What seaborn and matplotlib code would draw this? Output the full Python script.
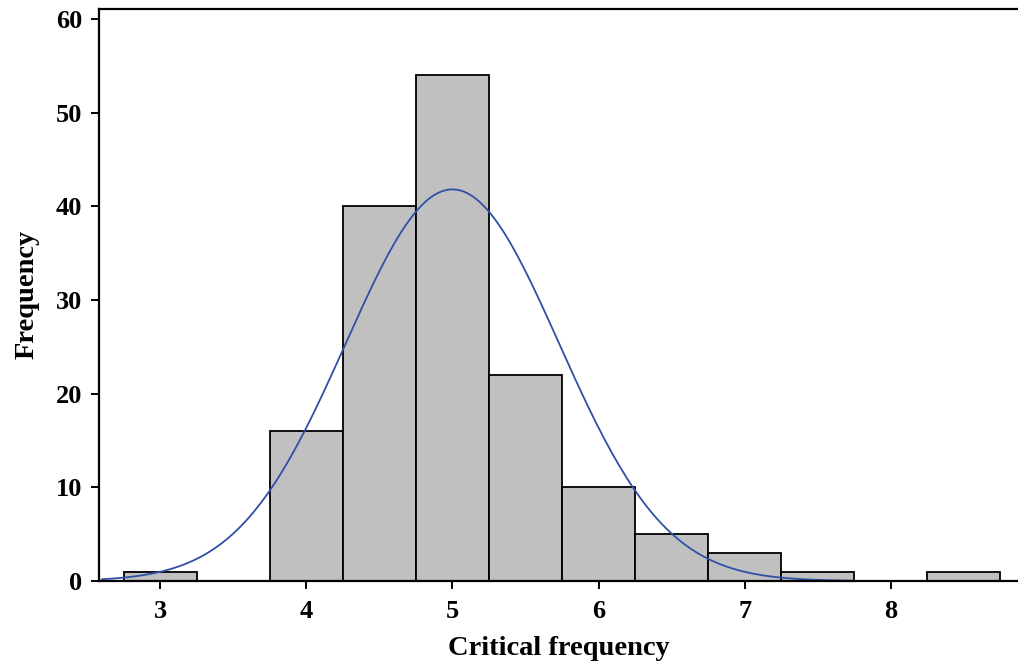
import numpy as np
import pandas as pd
import matplotlib
matplotlib.use("Agg")
import matplotlib.pyplot as plt
import seaborn as sns

# ---- data ----
bin_centers = [3.0, 3.5, 4.0, 4.5, 5.0, 5.5, 6.0, 6.5, 7.0, 7.5, 8.0, 8.5]
counts = [1, 0, 16, 40, 54, 22, 10, 5, 3, 1, 0, 1]
fit_mean = 5.0
fit_sd = 0.73
curve_range = (2.6, 7.75)
x_ticks = [3, 4, 5, 6, 7, 8]
y_ticks = [0, 10, 20, 30, 40, 50, 60]
x_label = "Critical frequency"
y_label = "Frequency"

sns.set_theme(style="white")
plt.rcParams["font.family"] = ["Liberation Serif", "DejaVu Serif"]
plt.rcParams["font.weight"] = "bold"
plt.rcParams["text.color"] = "black"
plt.rcParams["axes.labelcolor"] = "black"
plt.rcParams["xtick.color"] = "black"
plt.rcParams["ytick.color"] = "black"

fig = plt.figure(figsize=(10.18, 6.71), dpi=100)
ax = fig.add_axes([0.0973, 0.1341, 0.9027, 0.853])

df = pd.DataFrame({"x": bin_centers, "n": counts})
binwidth = 0.5
sns.histplot(data=df, x="x", weights="n", binwidth=binwidth,
             binrange=(bin_centers[0] - binwidth / 2, bin_centers[-1] + binwidth / 2),
             color="#C0C0C0", edgecolor="black", linewidth=1.3, alpha=1, ax=ax)

# fitted normal curve scaled to counts
N = sum(counts)
xs = np.linspace(curve_range[0], curve_range[1], 200)
ys = N * binwidth / (fit_sd * np.sqrt(2 * np.pi)) * np.exp(-0.5 * ((xs - fit_mean) / fit_sd) ** 2)
sns.lineplot(x=xs, y=ys, color="#3050A8", linewidth=1.3, ax=ax)

ax.set_xlim(2.582, 8.87)
ax.set_ylim(0, 61.1)
ax.set_xticks(x_ticks)
ax.set_yticks(y_ticks)
ax.set_xticklabels([str(t) for t in x_ticks], fontsize=19, fontweight="bold", color="black")
ax.set_yticklabels([str(t) for t in y_ticks], fontsize=19, fontweight="bold", color="black")
ax.set_xlabel(x_label, fontsize=20.5, fontweight="bold", labelpad=9, color="black")
ax.set_ylabel(y_label, fontsize=20.5, fontweight="bold", labelpad=12, color="black")

for s in ["left", "bottom", "top"]:
    ax.spines[s].set_visible(True)
    ax.spines[s].set_color("black")
    ax.spines[s].set_linewidth(1.6)
ax.spines["right"].set_visible(False)
ax.tick_params(axis="both", which="major", direction="out", length=6, width=1.4,
               color="black", bottom=True, left=True, top=False, right=False, pad=6)
ax.tick_params(axis="x", pad=8)

fig.savefig("out.png", dpi=100)
